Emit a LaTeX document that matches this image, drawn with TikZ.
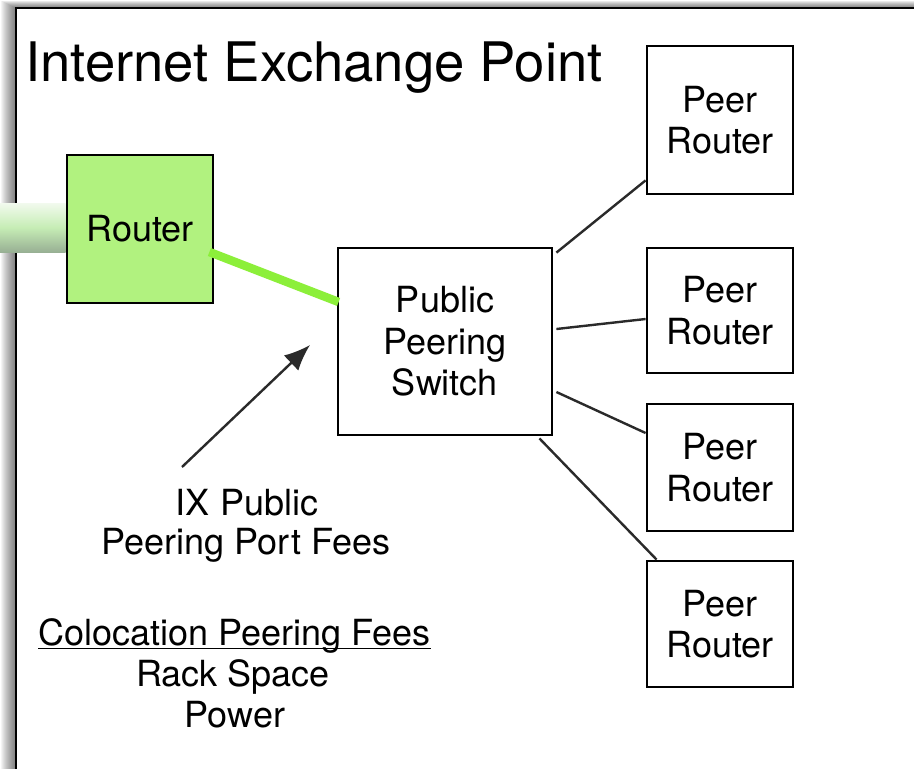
\documentclass[tikz,border=0pt]{standalone}
\usepackage{fontspec}
\setmainfont{TeX Gyre Heros}
\usetikzlibrary{arrows.meta,calc}
\definecolor{routergreen}{HTML}{B1F27F}
\definecolor{linkgreen}{HTML}{8CEF3A}
\definecolor{stubtop}{HTML}{F2FAEE}
\definecolor{stubmid}{HTML}{C6EDB5}
\definecolor{stubbot}{HTML}{98B094}
\definecolor{wire}{HTML}{2A2A2A}
\begin{document}
\begin{tikzpicture}[x=1pt,y=-1pt,
  box/.style={draw, line width=2.8pt, inner sep=0pt, align=center,
    font=\fontsize{36}{41.5}\selectfont},
  label/.style={inner sep=0pt, anchor=base, font=\fontsize{36}{41.5}\selectfont},
  peerlink/.style={draw=wire, line width=2.4pt},
  greenlink/.style={draw=linkgreen, line width=8.5pt},
  callout/.style={draw=wire, line width=2.4pt, -{Latex[length=26pt,width=21pt]}}]
\useasboundingbox (0,0) rectangle (914,769);
\clip (0,0) rectangle (914,769);

% soft shadow round the frame
\foreach \k in {1,...,15}
  \fill[black, opacity=0.045] (16-\k,8-0.5*\k) rectangle (940,790);
% the exchange point frame
\fill[white] (16,8) rectangle (940,790);
\draw[line width=2.8pt] (16,8) rectangle (940,790);

\node[label, anchor=base west, font=\fontsize{54.5}{60}\selectfont] (title) at (25,81) {Internet Exchange Point};

% devices
\node[box, fill=routergreen, minimum width=146pt, minimum height=148pt] (rt) at (140,229) {Router};
\node[box, minimum width=214pt, minimum height=187pt] (sw) at (445,341.5) {Public\\Peering\\Switch};
\node[box, minimum width=146pt, minimum height=148pt] (p1) at (720,120) {Peer\\Router};
\node[box, minimum width=146pt, minimum height=125pt] (p2) at (720,310.5) {Peer\\Router};
\node[box, minimum width=146pt, minimum height=127pt] (p3) at (720,467.5) {Peer\\Router};
\node[box, minimum width=146pt, minimum height=126pt] (p4) at (720,624) {Peer\\Router};

% uplink entering from outside the exchange
\coordinate (extA) at (0,203);
\coordinate (extB) at (rt.west |- 0,252);
\shade[top color=stubtop, bottom color=stubbot, middle color=stubmid] (extA) rectangle (extB);

% links
\draw[greenlink] ([shift={(-5,23)}]rt.east) -- ([shift={(2,-39.5)}]sw.west);
\draw[peerlink] ([shift={(3,6)}]sw.north east) -- ([shift={(0,-15)}]p1.south west);
\draw[peerlink] ([shift={(3,-12.5)}]sw.east) -- ([shift={(0,8.5)}]p2.west);
\draw[peerlink] ([shift={(3,50.5)}]sw.east) -- ([shift={(0,-34.5)}]p3.west);
\draw[peerlink] ([shift={(-14,2)}]sw.south east) -- ([shift={(11,0)}]p4.north west);

% fee annotations
\coordinate (tail) at (182,467);
\coordinate (tip) at (310,345);
\draw[callout] (tail) -- (tip);
\node[label] (ix1) at (247,515) {IX Public};
\node[label] (ix2) at (246,554) {Peering Port Fees};
\node[label] (colo) at (234.5,645) {Colocation Peering Fees};
\draw[line width=1.8pt] ([yshift=-3.5pt]colo.base west) -- ([yshift=-3.5pt]colo.base east);
\node[label] (rack) at (233,686) {Rack Space};
\node[label] (power) at (235,727) {Power};
\end{tikzpicture}
\end{document}
